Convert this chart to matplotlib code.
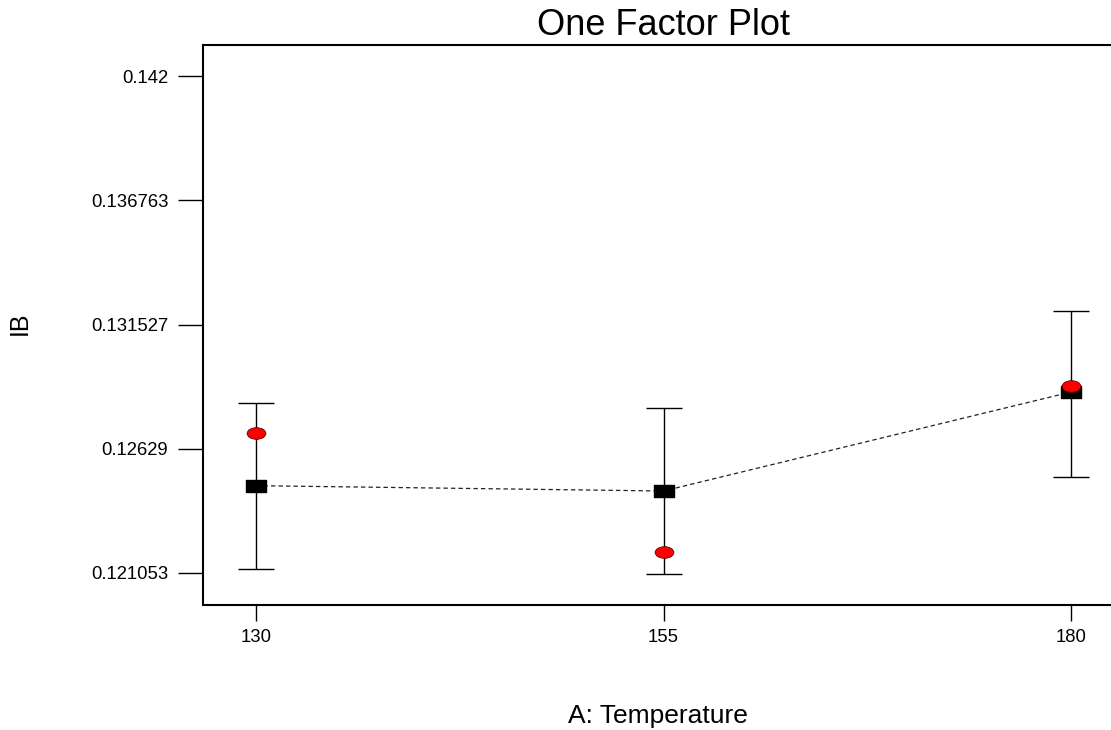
import matplotlib
matplotlib.use("Agg")
import matplotlib.pyplot as plt
from matplotlib.path import Path
import numpy as np

plt.rcParams['font.family'] = ['Liberation Sans', 'DejaVu Sans']

# A: Temperature levels
temps = np.array([130, 155, 180])
# predicted IB (black squares) and its interval
predicted = np.array([0.124733, 0.124509, 0.128682])
lower = np.array([0.121222, 0.121024, 0.125112])
upper = np.array([0.128231, 0.128020, 0.132109])
# design points (red dots)
actual = np.array([0.126967, 0.121925, 0.128947])

yticks = [0.142, 0.136763, 0.131527, 0.12629, 0.121053]
ytick_labels = ['0.142', '0.136763', '0.131527', '0.12629', '0.121053']

# rectangle and ellipse marker shapes
rect = Path([(-1, -0.6), (1, -0.6), (1, 0.6), (-1, 0.6), (-1, -0.6)],
            [Path.MOVETO, Path.LINETO, Path.LINETO, Path.LINETO, Path.CLOSEPOLY])
circ = Path.unit_circle()
ellipse = Path(circ.vertices * np.array([1.0, 0.62]), circ.codes)

fig = plt.figure(figsize=(11.11, 7.30), dpi=100)
ax = fig.add_axes([203/1111, 125/730, 921/1111, 560/730])

ax.errorbar(temps, predicted, yerr=[predicted - lower, upper - predicted],
            fmt='none', ecolor='black', elinewidth=1.0, capsize=13.3,
            capthick=1.0, zorder=2)
ax.plot(temps, predicted, color='#222222', lw=0.9, linestyle=(0, (3.5, 2.5)), zorder=3)
ax.plot(temps, predicted, linestyle='none', marker=rect, markersize=15,
        color='black', zorder=4)
ax.plot(temps, actual, linestyle='none', marker=ellipse, markersize=13.5,
        markerfacecolor='red', markeredgecolor='#600000', markeredgewidth=0.6,
        zorder=5)

ax.set_xlim(126.75, 183.25)
ax.set_ylim(0.119704, 0.143308)
ax.set_xticks(temps)
ax.set_xticklabels([str(t) for t in temps])
ax.set_yticks(yticks)
ax.set_yticklabels(ytick_labels)

ax.tick_params(axis='y', direction='out', length=18, width=1.0, pad=7, labelsize=13.3)
ax.tick_params(axis='x', direction='out', length=11.5, width=1.0, pad=6, labelsize=13.3)
for s in ax.spines.values():
    s.set_linewidth(1.5)

ax.set_title('One Factor Plot', fontsize=26, pad=7)
ax.set_xlabel('A: Temperature', fontsize=19)
ax.xaxis.set_label_coords(0.494, -0.176)
ax.set_ylabel('IB', fontsize=18)
ax.yaxis.set_label_coords(-0.186, 0.503)

fig.savefig('out.png', dpi=100)
